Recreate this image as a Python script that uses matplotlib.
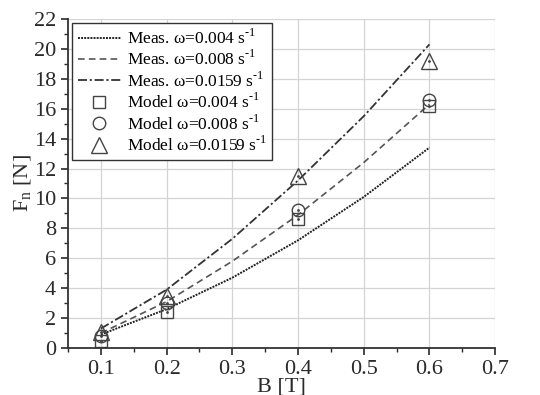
import matplotlib
matplotlib.use("Agg")
import matplotlib.pyplot as plt
from matplotlib.ticker import MultipleLocator

plt.rcParams["font.family"] = ["Liberation Serif", "DejaVu Serif"]
plt.rcParams["mathtext.fontset"] = "custom"
plt.rcParams["mathtext.rm"] = "Liberation Serif"

# measured curves
b_meas = [0.1, 0.2, 0.3, 0.4, 0.5, 0.6]
meas_004 = [0.9, 2.6, 4.7, 7.2, 10.1, 13.4]
meas_008 = [1.0, 3.1, 5.8, 8.9, 12.4, 16.3]
meas_0159 = [1.3, 3.9, 7.3, 11.2, 15.5, 20.3]

# model points
b_model = [0.1, 0.2, 0.4, 0.6]
model_004 = [0.5, 2.4, 8.6, 16.2]
model_008 = [0.8, 3.0, 9.2, 16.6]
model_0159 = [1.1, 3.5, 11.5, 19.2]

sup = r"$^{\mathrm{\text{-}1}}$"

fig = plt.figure(figsize=(5.4, 3.95), dpi=100)
ax = fig.add_axes([0.126, 0.119, 0.791, 0.833])

ax.plot(b_meas, meas_004, ls=(0, (1, 0.6)), color="#222222", lw=1.4,
        label="Meas. ω=0.004 s" + sup)
ax.plot(b_meas, meas_008, ls=(0, (4, 2.5)), color="#555555", lw=1.2,
        label="Meas. ω=0.008 s" + sup)
ax.plot(b_meas, meas_0159, ls=(0, (5, 1.5, 1.2, 1.5)), color="#333333", lw=1.3,
        label="Meas. ω=0.0159 s" + sup)

mk = dict(ls="none", mfc="none", mec="#444444", mew=1.0)
ax.plot(b_model, model_004, marker="s", ms=9, label="Model ω=0.004 s" + sup, **mk)
ax.plot(b_model, model_008, marker="o", ms=9, label="Model ω=0.008 s" + sup, **mk)
ax.plot(b_model, model_0159, marker="^", ms=11, label="Model ω=0.0159 s" + sup, **mk)
# centre dots like the original markers
for ys in (model_004, model_008, model_0159):
    ax.plot(b_model, ys, ls="none", marker=".", ms=2, color="#444444")

ax.set_xlim(0.05, 0.7)
ax.set_ylim(0, 22)
ax.xaxis.set_major_locator(MultipleLocator(0.1))
ax.xaxis.set_minor_locator(MultipleLocator(0.05))
ax.yaxis.set_major_locator(MultipleLocator(2))
ax.yaxis.set_minor_locator(MultipleLocator(1))
ax.tick_params(which="both", direction="out", labelsize=16, colors="#2a2a2a")
ax.tick_params(which="major", length=5, width=1.2)
ax.tick_params(which="minor", length=3, width=1.0)
ax.grid(True, which="major", color="#d4d4d4", lw=0.9)
ax.set_axisbelow(True)

for s in ("top", "right"):
    ax.spines[s].set_visible(False)
for s in ("left", "bottom"):
    ax.spines[s].set_linewidth(1.3)
    ax.spines[s].set_color("#333333")

ax.set_xlabel("B [T]", fontsize=16, labelpad=-1, color="#2a2a2a")
ax.set_ylabel(r"F$_{\mathrm{n}}$ [N]", fontsize=16, labelpad=0, color="#2a2a2a")

leg = ax.legend(loc="upper left", fontsize=12.5, frameon=True, fancybox=False,
                edgecolor="#333333", framealpha=1, handlelength=2.5,
                borderaxespad=0.25, labelspacing=0.12, handletextpad=0.35,
                borderpad=0.3)
leg.get_frame().set_linewidth(1.0)

fig.savefig("out.png", dpi=100)
